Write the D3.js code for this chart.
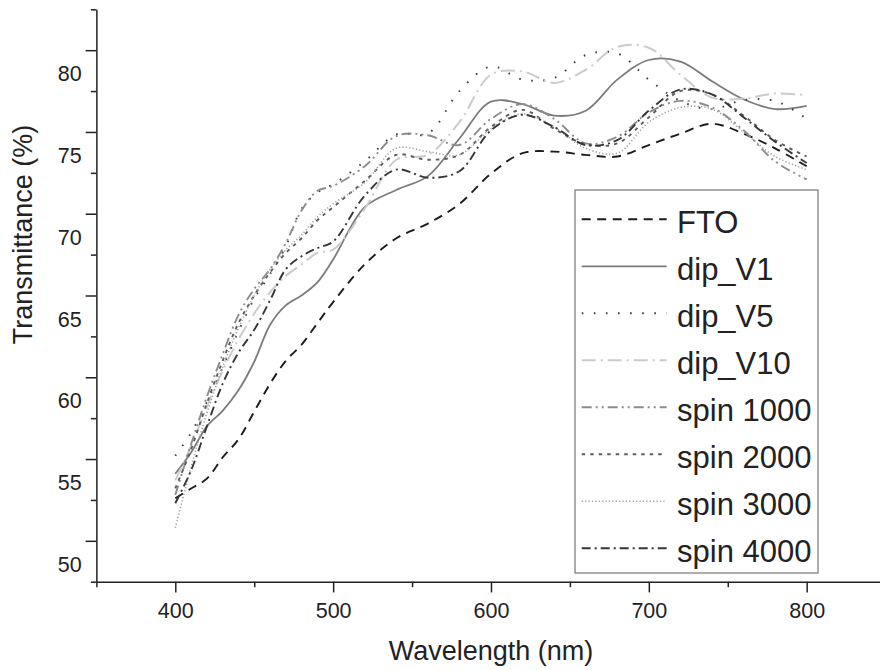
<!DOCTYPE html>
<html>
<head>
<meta charset="utf-8">
<script src="https://cdn.jsdelivr.net/npm/d3@7"></script>
<style>
  html, body { margin: 0; padding: 0; background: #ffffff; }
  svg { display: block; font-family: "Liberation Sans", Arial, Helvetica, sans-serif; }
</style>
</head>
<body>
<script>
// ---------- data ----------
const wavelength = [400,410,420,430,440,450,460,470,480,490,500,520,540,560,580,600,620,640,660,680,700,720,740,760,780,800];

const FTO       = [52.6,53.2,53.8,55.1,56.2,57.9,59.6,61.0,62.0,63.3,64.6,66.9,68.5,69.4,70.6,72.45,73.7,73.8,73.6,73.5,74.2,74.9,75.5,74.9,74.0,72.9];
const dip_V1    = [54.1,55.4,57.0,57.95,59.2,60.95,63.2,64.4,65.0,65.8,67.2,70.4,71.45,72.3,74.6,76.85,76.7,76.0,76.3,78.2,79.4,79.3,78.1,77.0,76.4,76.6];
const dip_V5    = [55.2,56.6,58.5,60.6,62.8,64.8,66.3,68.0,70.3,71.3,71.8,73.2,74.85,74.9,77.5,79.0,78.2,78.3,79.7,79.8,78.2,76.9,76.4,76.95,76.9,75.8];
const dip_V10   = [53.7,55.8,58.2,60.4,62.3,63.9,65.2,66.2,66.9,67.6,67.8,70.3,73.3,73.6,75.6,78.5,78.7,78.0,78.8,80.2,80.15,78.5,77.1,77.05,77.35,77.25];
const spin1000  = [52.8,55.9,58.8,61.4,63.8,65.4,66.6,68.2,70.2,71.4,71.7,72.9,74.75,74.8,74.2,75.8,76.7,75.8,74.3,74.7,76.2,76.9,76.5,75.1,73.2,72.1];
const spin2000  = [53.2,55.6,58.4,61.0,63.3,65.0,66.4,67.6,68.5,69.6,70.4,72.0,73.6,73.3,73.6,75.3,76.35,75.2,74.25,74.3,75.9,77.5,77.3,76.0,74.5,73.5];
const spin3000  = [50.8,54.5,57.8,60.6,63.0,65.0,66.6,67.8,68.7,69.8,70.6,71.9,74.0,73.8,73.6,75.2,76.1,75.3,74.0,73.7,75.6,76.5,76.4,75.0,73.5,72.7];
const spin4000  = [52.3,54.3,57.0,59.6,61.5,62.9,64.7,66.6,67.4,67.9,68.3,71.1,72.7,72.2,72.6,75.1,76.05,75.3,74.2,74.5,76.3,77.6,77.3,75.9,74.4,73.1];

const seriesNames = ["FTO","dip_V1","dip_V5","dip_V10","spin 1000","spin 2000","spin 3000","spin 4000"];
const seriesValues = [FTO, dip_V1, dip_V5, dip_V10, spin1000, spin2000, spin3000, spin4000];

const xMajorTicks = [400,500,600,700,800];
const xMinorTicks = [350,450,550,650,750,850];
const yMajorTicks = [50,55,60,65,70,75,80];
const yMinorTicks = [47.5,52.5,57.5,62.5,67.5,72.5,77.5,82.5];

// ---------- styles ----------
const styles = [
  {color:"#1c1c1c", width:1.9, dash:"9,6.5", cap:"butt"},
  {color:"#7c7c7c", width:1.8, dash:null, cap:"butt"},
  {color:"#3c3c3c", width:1.9, dash:"1.6,10.5", cap:"butt"},
  {color:"#cbcbcb", width:2.0, dash:"14,5,2,5", cap:"butt"},
  {color:"#8c8c8c", width:1.9, dash:"10,4,2,4,2,4", cap:"butt"},
  {color:"#5c5c5c", width:1.9, dash:"3.5,5", cap:"butt"},
  {color:"#a0a0a0", width:1.6, dash:"1.2,2.2", cap:"butt"},
  {color:"#363636", width:1.9, dash:"9,4,2,4", cap:"butt"}
];

// ---------- chart ----------
const W = 880, H = 670;
const svg = d3.select("body").append("svg").attr("width", W).attr("height", H);

const x = d3.scaleLinear().domain([350, 850]).range([96.37, 885.6]);
const y = d3.scaleLinear().domain([47.5, 82.5]).range([581.7, 9.3]);

const axisColor = "#222";

// curves
const line = d3.line()
  .x((d, i) => x(wavelength[i]))
  .y(d => y(d))
  .curve(d3.curveCatmullRom.alpha(0.5));

const gLines = svg.append("g");
seriesValues.forEach((vals, k) => {
  const s = styles[k];
  gLines.append("path")
    .datum(vals)
    .attr("d", line)
    .attr("fill", "none")
    .attr("stroke", s.color)
    .attr("stroke-width", s.width)
    .attr("stroke-dasharray", s.dash)
    .attr("stroke-linecap", s.cap);
});

// x axis
const gx = svg.append("g").attr("transform", `translate(0,${y.range()[0]})`)
  .call(d3.axisBottom(x).tickValues(xMajorTicks).tickSize(10.7).tickSizeOuter(0).tickFormat(d3.format("d")));
const gxMinor = svg.append("g").attr("transform", `translate(0,${y.range()[0]})`)
  .call(d3.axisBottom(x).tickValues(xMinorTicks).tickSize(5.5).tickSizeOuter(0).tickFormat(""));
gxMinor.select(".domain").remove();

// y axis
const gy = svg.append("g").attr("transform", `translate(${x.range()[0]},0)`)
  .call(d3.axisLeft(y).tickValues(yMajorTicks).tickSize(10.7).tickSizeOuter(0).tickPadding(3.9).tickFormat(d3.format("d")));
const gyMinor = svg.append("g").attr("transform", `translate(${x.range()[0]},0)`)
  .call(d3.axisLeft(y).tickValues(yMinorTicks).tickSize(5.5).tickSizeOuter(0).tickFormat(""));
gyMinor.select(".domain").remove();

[gx, gxMinor, gy, gyMinor].forEach(g => {
  g.selectAll(".domain").attr("stroke", axisColor).attr("stroke-width", 1.5);
  g.selectAll(".tick line").attr("stroke", axisColor).attr("stroke-width", 1.5);
});
gx.selectAll(".tick text")
  .attr("y", 36.3).attr("dy", 0)
  .attr("font-size", 21.5).attr("fill", "#222")
  .attr("font-family", "'Liberation Sans', Arial, sans-serif");
gy.selectAll(".tick text")
  .attr("y", 30.5).attr("dy", 0)
  .attr("font-size", 21.5).attr("fill", "#222")
  .attr("font-family", "'Liberation Sans', Arial, sans-serif");

// axis titles
svg.append("text")
  .attr("x", 491).attr("y", 660)
  .attr("text-anchor", "middle")
  .attr("font-size", 27).attr("fill", "#222")
  .text("Wavelength (nm)");
svg.append("text")
  .attr("transform", "translate(32,234.5) rotate(-90)")
  .attr("text-anchor", "middle")
  .attr("font-size", 27).attr("fill", "#222")
  .text("Transmittance (%)");

// legend
const lg = svg.append("g");
lg.append("rect")
  .attr("x", 575).attr("y", 190).attr("width", 243).attr("height", 383)
  .attr("fill", "#fff").attr("stroke", "#777").attr("stroke-width", 1.2);
seriesNames.forEach((name, k) => {
  const s = styles[k];
  const ry = 219.3 + k * 47;
  lg.append("line")
    .attr("x1", 581.7).attr("x2", 666.7).attr("y1", ry).attr("y2", ry)
    .attr("stroke", s.color).attr("stroke-width", s.width)
    .attr("stroke-dasharray", s.dash);
  lg.append("text")
    .attr("x", 677).attr("y", ry + 13.5)
    .attr("font-size", 31).attr("fill", "#222")
    .text(name);
});
</script>
</body>
</html>
